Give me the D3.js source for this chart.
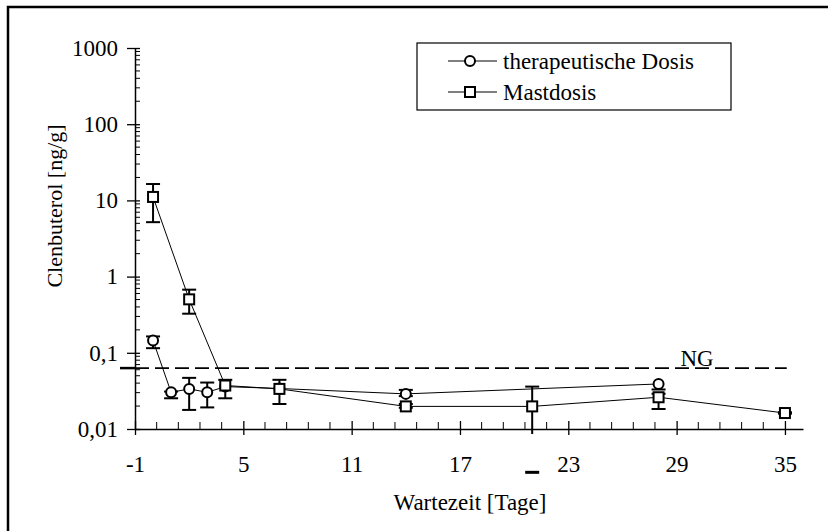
<!DOCTYPE html>
<html lang="de">
<head>
<meta charset="UTF-8">
<script src="https://d3js.org/d3.v7.min.js"></script>
<title>Clenbuterol</title>
<style>
  body { margin: 0; background: #fff; }
  svg text { font-family: "Liberation Serif", Tinos, "Times New Roman", Times, "DejaVu Serif", serif !important; fill: #000; }
</style>
</head>
<body>
<svg id="svg1" width="828" height="531"></svg>
<script>
// therapeutische Dosis (circles)
const thDays = [0, 1, 2, 3, 4, 7, 14, 28];
const thVal  = [0.145, 0.0303, 0.0336, 0.0303, 0.036, 0.034, 0.0289, 0.039];
const thHi   = [0.164, 0.031, 0.0469, 0.0407, null, null, 0.0326, null];
const thLo   = [0.115, 0.0253, 0.0178, 0.0192, null, null, 0.027, 0.033];

// Mastdosis (squares)
const mDays = [0, 2, 4, 7, 14, 21, 28, 35];
const mVal  = [11.1, 0.503, 0.0372, 0.0336, 0.0198, 0.0198, 0.0261, 0.0162];
const mHi   = [16.4, 0.674, 0.0442, 0.0442, 0.0213, 0.036, 0.029, 0.0166];
const mLo   = [5.18, 0.326, 0.0253, 0.0213, 0.019, 0.0027, 0.0183, 0.0159];

const ngValue = 0.063;

const yTicks  = [0.01, 0.1, 1, 10, 100, 1000];
const yLabels = ["0,01", "0,1", "1", "10", "100", "1000"];
const xTicks  = [-1, 5, 11, 17, 23, 29, 35];
const xLabels = ["-1", "5", "11", "17", "23", "29", "35"];

const legendNames = ["therapeutische Dosis", "Mastdosis"];

const svg = d3.select("#svg1");
const fs = 23;
const serif = "Liberation Serif, Tinos, Times New Roman, DejaVu Serif, serif";

const x = d3.scaleLinear().domain([-1, 36]).range([135, 803]);
const y = d3.scaleLog().domain([0.01, 1000]).range([429, 48]);
const x0 = x.range()[0], yBottom = y.range()[0];

// outer frame (only top/left visible)
svg.append("path")
  .attr("d", `M8,531 V7 H828`)
  .attr("fill", "none").attr("stroke", "#000").attr("stroke-width", 2.5);

// y axis
const yAxis = svg.append("g")
  .attr("transform", `translate(${x0},0)`)
  .call(d3.axisLeft(y).tickValues(yTicks).tickFormat((d, i) => yLabels[i])
        .tickSizeInner(8).tickSizeOuter(0).tickPadding(9))
  .attr("font-family", serif);
yAxis.select(".domain").attr("stroke-width", 1.5);
yAxis.selectAll(".tick line").attr("x1", 5).attr("stroke-width", 1.3);
yAxis.selectAll(".tick text").attr("font-size", fs);

// y minor ticks
const yMinor = [];
for (let e = -2; e < 3; e++) for (let k = 2; k < 10; k++) yMinor.push(k * Math.pow(10, e));
svg.append("g").selectAll("line").data(yMinor).join("line")
  .attr("x1", x0).attr("x2", x0 + 5)
  .attr("y1", d => y(d)).attr("y2", d => y(d))
  .attr("stroke", "#000").attr("stroke-width", 1);

// x axis
const xAxis = svg.append("g")
  .attr("transform", `translate(0,${yBottom})`)
  .call(d3.axisBottom(x).tickValues(xTicks).tickFormat((d, i) => xLabels[i])
        .tickSizeInner(6).tickSizeOuter(0).tickPadding(21))
  .attr("font-family", serif);
xAxis.select(".domain").attr("stroke-width", 1.5);
xAxis.selectAll(".tick line").attr("y1", -8).attr("stroke-width", 1.3);
xAxis.selectAll(".tick text").attr("font-size", fs);

// x minor ticks every 1.2 days
const xMinor = d3.range(0, 31).map(i => -1 + i * 1.2).filter((d, i) => i % 5 !== 0);
svg.append("g").selectAll("line").data(xMinor).join("line")
  .attr("x1", d => x(d)).attr("x2", d => x(d))
  .attr("y1", yBottom - 7).attr("y2", yBottom)
  .attr("stroke", "#000").attr("stroke-width", 1);

// axis titles
svg.append("text")
  .attr("transform", `translate(62,${206}) rotate(-90)`)
  .attr("text-anchor", "middle").attr("font-size", 22)
  .text("Clenbuterol [ng/g]");
svg.append("text")
  .attr("x", 470).attr("y", 510)
  .attr("text-anchor", "middle").attr("font-size", fs)
  .text("Wartezeit [Tage]");

// NG line
svg.append("line")
  .attr("x1", x0).attr("x2", x(35.1))
  .attr("y1", y(ngValue)).attr("y2", y(ngValue))
  .attr("stroke", "#000").attr("stroke-width", 1.6)
  .attr("stroke-dasharray", "14,6");
svg.append("line")
  .attr("x1", x0 - 15).attr("x2", x0)
  .attr("y1", y(ngValue)).attr("y2", y(ngValue))
  .attr("stroke", "#000").attr("stroke-width", 2.5);
svg.append("text")
  .attr("x", 697).attr("y", y(ngValue) - 2)
  .attr("text-anchor", "middle").attr("font-size", fs)
  .text("NG");

function series(days, vals, hi, lo, shape) {
  const pts = days.map((d, i) => ({d, v: vals[i], hi: hi[i], lo: lo[i]}));
  const g = svg.append("g");
  g.append("path").datum(pts)
    .attr("fill", "none").attr("stroke", "#000").attr("stroke-width", 1)
    .attr("d", d3.line().x(p => x(p.d)).y(p => y(p.v)));
  const cap = 7;
  pts.forEach(p => {
    const cx = x(p.d);
    if (p.hi != null) {
      g.append("line").attr("x1", cx).attr("x2", cx)
        .attr("y1", y(p.v)).attr("y2", y(p.hi))
        .attr("stroke", "#000").attr("stroke-width", 2);
      g.append("line").attr("x1", cx - cap).attr("x2", cx + cap)
        .attr("y1", y(p.hi)).attr("y2", y(p.hi))
        .attr("stroke", "#000").attr("stroke-width", 2);
    }
    if (p.lo != null) {
      const yl = y(p.lo);
      g.append("line").attr("x1", cx).attr("x2", cx)
        .attr("y1", y(p.v)).attr("y2", Math.min(yl, yBottom + 5))
        .attr("stroke", "#000").attr("stroke-width", 2);
      g.append("line").attr("x1", cx - cap).attr("x2", cx + cap)
        .attr("y1", yl).attr("y2", yl)
        .attr("stroke", "#000").attr("stroke-width", yl > yBottom ? 3 : 2);
    }
  });
  pts.forEach(p => drawMarker(g, x(p.d), y(p.v), shape));
}

function drawMarker(g, cx, cy, shape) {
  if (shape === "circle") {
    g.append("circle").attr("cx", cx).attr("cy", cy).attr("r", 5)
      .attr("fill", "#fff").attr("stroke", "#000").attr("stroke-width", 2);
  } else {
    g.append("rect").attr("x", cx - 5).attr("y", cy - 5)
      .attr("width", 10).attr("height", 10)
      .attr("fill", "#fff").attr("stroke", "#000").attr("stroke-width", 2);
  }
}

series(thDays, thVal, thHi, thLo, "circle");
series(mDays, mVal, mHi, mLo, "square");

// legend
const leg = svg.append("g");
leg.append("rect").attr("x", 417).attr("y", 43).attr("width", 314).attr("height", 67)
  .attr("fill", "#fff").attr("stroke", "#000").attr("stroke-width", 1.2);
legendNames.forEach((name, i) => {
  const ly = 61 + i * 31;
  leg.append("line").attr("x1", 448).attr("x2", 497).attr("y1", ly).attr("y2", ly)
    .attr("stroke", "#000").attr("stroke-width", 1);
  drawMarker(leg, 470, ly, i === 0 ? "circle" : "square");
  leg.append("text").attr("x", 503).attr("y", ly).attr("dy", "0.35em")
    .attr("font-size", fs).text(name);
});
</script>
</body>
</html>
